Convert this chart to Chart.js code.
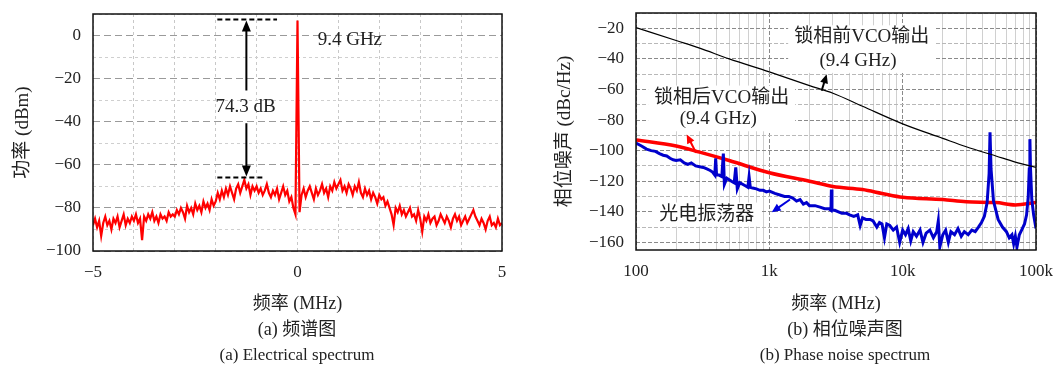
<!DOCTYPE html>
<html>
<head>
<meta charset="utf-8">
<script src="https://cdn.jsdelivr.net/npm/chart.js@4.4.0/dist/chart.umd.min.js"></script>
<style>
  body { margin: 0; background: #fff; width: 1055px; height: 367px; position: relative; overflow: hidden;
         font-family: 'Liberation Serif', 'Noto Sans CJK SC', serif; color: #222; }
  canvas { position: absolute; top: 0; }
  #chartSpec { left: 0; }
  #chartNoise { left: 530px; }
  .cap { position: absolute; width: 400px; text-align: center; white-space: nowrap; }
</style>
</head>
<body>
<canvas id="chartSpec" width="525" height="320"></canvas>
<canvas id="chartNoise" width="525" height="320"></canvas>
<div class="cap" style="left:97px;top:314px;font-size:18px">(a) 频谱图</div>
<div class="cap" style="left:97px;top:345px;font-size:17px">(a) Electrical spectrum</div>
<div class="cap" style="left:645px;top:314px;font-size:18px">(b) 相位噪声图</div>
<div class="cap" style="left:645px;top:345px;font-size:17px">(b) Phase noise spectrum</div>
<script>
// spectrum (a): power in dBm, sampled every 0.05 MHz from -5 to 5
const specStart = -5
const specStep = 0.05
const specP = [
  -88,-85,-89,-86,-93,-87,-84,-88,-86,-90,-85,-87,-84,-89,-86,-83,-88,-85,-87,-84,
  -86,-83,-87,-85,-95,-84,-86,-83,-85,-82,-86,-84,-87,-83,-85,-84,-86,-82,-84,-83,
  -84,-81,-83,-80,-82,-85,-79,-82,-80,-83,-78,-81,-79,-82,-77,-80,-78,-81,-76,-79,
  -77,-73,-76,-72,-75,-71,-74,-70,-73,-76,-71,-69,-73,-70,-67,-71,-69,-74,-70,-72,
  -70,-73,-71,-74,-72,-69,-73,-75,-72,-74,-71,-76,-73,-70,-74,-72,-77,-75,-80,-83,
  7,
  -82,-74,-71,-75,-72,-70,-73,-76,-71,-74,-72,-69,-73,-71,-75,-70,-72,-68,-71,-69,
  -67,-72,-70,-73,-69,-71,-74,-70,-72,-68,-73,-75,-71,-74,-72,-76,-73,-75,-78,-74,
  -76,-75,-79,-77,-80,-83,-88,-80,-82,-79,-83,-81,-84,-82,-80,-84,-83,-86,-81,-85,
  -91,-84,-86,-83,-87,-85,-84,-88,-86,-83,-85,-87,-84,-86,-89,-85,-83,-86,-84,-88,
  -86,-84,-87,-85,-83,-81,-84,-86,-88,-85,-87,-90,-86,-84,-88,-87,-89,-85,-88,-87
]

// phase noise (b): offset frequency (Hz) and dBc/Hz
const vcoFreeF = [100, 200, 300, 500, 1000, 2000, 3000, 5000, 10000, 20000, 30000, 50000, 70000, 100000]
const vcoFreeP = [-19.5, -28, -33, -40, -48.5, -57.5, -62.5, -71, -82.5, -92, -97.5, -103.5, -107.5, -111]

const vcoLockF = [100, 200, 300, 500, 1000, 2000, 3000, 5000, 7000, 10000, 20000, 30000, 50000, 70000, 100000]
const vcoLockP = [-93, -97, -101, -106.5, -114.5, -120, -123.5, -125.5, -128, -130.5, -132, -133.5, -134, -135.5, -134]

const oeoF = [
  100,110,120,130,140,150,160,170,180,190,200,215,230,245,260,280,300,320,340,360,375,390,396,402,420,440,452,460,480,500,
  520,545,560,575,600,630,660,690,705,720,750,800,850,900,950,1000,1100,1200,1300,1400,1500,1600,1700,1800,1900,2000,2200,2400,2600,2800,
  2900,2920,2950,3100,3300,3500,3800,4000,4300,4600,4800,5000,5300,5700,6000,6400,6700,7000,7300,7600,8000,8500,9000,9500,10000,10500,11000,11500,12000,12700,
  13500,14200,15000,16000,17000,18000,18500,19000,20000,21000,22000,23000,24500,26000,27500,29000,31000,33000,35000,37000,39000,41000,43000,44500,45200,46000,48000,52000,56000,60000,
  63000,66000,68000,70000,72000,75000,78000,82000,85000,87500,89000,90000,91000,93000,96000,100000
]
const oeoP = [
  -95,-97,-99,-100,-100.5,-102,-103,-103.5,-105,-106,-106.5,-106,-108,-109,-108,-110,-110.5,-111,-112,-113,-114,-116,-105,-116,-116,-117,-102,-122,-118,-119,
  -120,-121,-111,-125,-121,-122,-123,-124,-117,-124,-124.5,-125,-126,-126,-127,-126.5,-128,-129,-130,-130,-131,-133,-132,-135,-134,-136,-136,-137,-138,-138,
  -139,-125.5,-139,-139,-140,-141,-141,-142,-143,-142,-149,-144,-145,-145,-146,-150,-147,-148,-157,-148,-149,-152,-150,-160,-152,-155,-151,-159,-153,-156,
  -152,-160,-154,-152,-157,-153,-146,-163,-155,-152,-160,-153,-155,-151,-156,-153,-155,-152,-153,-150,-147,-143,-134,-115,-88,-112,-133,-145,-150,-153,
  -157,-155,-161,-156,-163,-155,-152,-148,-142,-130,-112,-92.5,-112,-132,-142,-151
]

// annotation anchors in data units
const specNotes = {
  arrowX: -1.25, topLevel: 7.4, floorLevel: -65.9,
  topLine: [-1.96, -0.5], floorLine: [-1.96, -0.84],
  upTail: -25.5, downTail: -40.7,
  gap: [-1.27, -33.3, '74.3 dB'], carrier: [1.28, -2.3, '9.4 GHz']
}
const noiseNotes = {
  free: { lines: [[4930, -25.9, '锁相前VCO输出'], [4620, -41.3, '(9.4 GHz)']], arrow: [2470, -60.9, 2690, -50], color: '#000' },
  lock: { lines: [[439, -65.3, '锁相后VCO输出'], [414, -79.5, '(9.4 GHz)']], arrow: [282, -101.4, 240, -89.4], color: '#f00' },
  oeo: { lines: [[339, -141.8, '光电振荡器']], arrow: [1429, -132, 1042, -140.3], color: '#0000dd' }
}

const FONT = "'Liberation Serif', 'Noto Sans CJK SC', serif"
const minus = v => String(v).replace('-', '\u2212')

function arrow(ctx, x1, y1, x2, y2, color, lw, hl, hw) {
  const a = Math.atan2(y2 - y1, x2 - x1)
  const c = Math.cos(a), s = Math.sin(a)
  ctx.save()
  ctx.strokeStyle = color
  ctx.fillStyle = color
  ctx.lineWidth = lw
  ctx.setLineDash([])
  ctx.beginPath()
  ctx.moveTo(x1, y1)
  ctx.lineTo(x2 - c * hl * 0.8, y2 - s * hl * 0.8)
  ctx.stroke()
  ctx.beginPath()
  ctx.moveTo(x2, y2)
  ctx.lineTo(x2 - hl * c + hw / 2 * s, y2 - hl * s - hw / 2 * c)
  ctx.lineTo(x2 - hl * c - hw / 2 * s, y2 - hl * s + hw / 2 * c)
  ctx.closePath()
  ctx.fill()
  ctx.restore()
}

const frame = {
  id: 'frame',
  afterDatasetsDraw(chart) {
    const { ctx, chartArea: a } = chart
    ctx.save()
    ctx.strokeStyle = '#111'
    ctx.lineWidth = 1.5
    ctx.strokeRect(a.left, a.top, a.right - a.left, a.bottom - a.top)
    ctx.restore()
  }
}

const specMarks = {
  id: 'specMarks',
  afterDraw(chart) {
    const { ctx } = chart
    const x = chart.scales.x, y = chart.scales.y
    const n = specNotes
    ctx.save()
    ctx.strokeStyle = '#000'
    ctx.lineWidth = 2
    ctx.setLineDash([5, 3])
    ctx.beginPath()
    ctx.moveTo(x.getPixelForValue(n.topLine[0]), y.getPixelForValue(n.topLevel))
    ctx.lineTo(x.getPixelForValue(n.topLine[1]), y.getPixelForValue(n.topLevel))
    ctx.moveTo(x.getPixelForValue(n.floorLine[0]), y.getPixelForValue(n.floorLevel))
    ctx.lineTo(x.getPixelForValue(n.floorLine[1]), y.getPixelForValue(n.floorLevel))
    ctx.stroke()
    ctx.restore()
    const ax = x.getPixelForValue(n.arrowX)
    arrow(ctx, ax, y.getPixelForValue(n.upTail), ax, y.getPixelForValue(n.topLevel) + 1, '#000', 2, 11, 9)
    arrow(ctx, ax, y.getPixelForValue(n.downTail), ax, y.getPixelForValue(n.floorLevel) - 1, '#000', 2, 11, 9)
    ctx.save()
    ctx.fillStyle = '#222'
    ctx.font = '19px ' + FONT
    ctx.textAlign = 'center'
    ctx.textBaseline = 'middle'
    for (const t of [n.gap, n.carrier]) {
      ctx.fillText(t[2], x.getPixelForValue(t[0]), y.getPixelForValue(t[1]))
    }
    ctx.restore()
  }
}

const noiseMarks = {
  id: 'noiseMarks',
  afterDatasetsDraw(chart) {
    const { ctx } = chart
    const x = chart.scales.x, y = chart.scales.y
    ctx.save()
    ctx.font = '19px ' + FONT
    ctx.textAlign = 'center'
    ctx.textBaseline = 'middle'
    for (const key of ['free', 'lock', 'oeo']) {
      const note = noiseNotes[key]
      // white box behind the label block
      let l = Infinity, r = -Infinity, t = Infinity, b = -Infinity
      for (const ln of note.lines) {
        const px = x.getPixelForValue(ln[0]), py = y.getPixelForValue(ln[1])
        const w = ctx.measureText(ln[2]).width
        l = Math.min(l, px - w / 2 - 6); r = Math.max(r, px + w / 2 + 6)
        t = Math.min(t, py - 12); b = Math.max(b, py + 12)
      }
      ctx.fillStyle = '#fff'
      ctx.fillRect(l, t, r - l, b - t)
      ctx.fillStyle = '#222'
      for (const ln of note.lines) {
        ctx.fillText(ln[2], x.getPixelForValue(ln[0]), y.getPixelForValue(ln[1]))
      }
      const ar = note.arrow
      arrow(ctx, x.getPixelForValue(ar[0]), y.getPixelForValue(ar[1]),
        x.getPixelForValue(ar[2]), y.getPixelForValue(ar[3]), note.color, 2, 9, 8)
    }
    ctx.restore()
  }
}

// drop the label overhang so the layout padding alone places the plot box
function fixY(width) {
  return s => { s.width = width; s.paddingTop = 0; s.paddingBottom = 0 }
}
function fixX(height) {
  return s => { s.height = height; s.paddingLeft = 0; s.paddingRight = 0 }
}

Chart.defaults.font.family = FONT
Chart.defaults.color = '#222'
Chart.defaults.animation = false

// chart (a)
const specData = specP.map((p, i) => ({ x: specStart + i * specStep, y: p }))
new Chart(document.getElementById('chartSpec'), {
  type: 'line',
  data: {
    datasets: [{
      data: specData,
      borderColor: '#ff0000',
      borderWidth: 2.2,
      pointRadius: 0,
      tension: 0
    }]
  },
  options: {
    responsive: false,
    layout: { padding: { top: 14, right: 23, left: 0, bottom: 0 } },
    plugins: { legend: { display: false }, tooltip: { enabled: false } },
    scales: {
      x: {
        type: 'linear', min: -5, max: 5,
        afterBuildTicks: s => { s.ticks = [-5,-4,-3,-2,-1,0,1,2,3,4,5].map(v => ({ value: v })) },
        afterFit: fixX(69),
        ticks: { font: { size: 17 }, padding: 11, maxRotation: 0, autoSkip: false,
          callback: v => (v === -5 || v === 0 || v === 5) ? minus(v) : '' },
        grid: { color: '#c8c8c8', lineWidth: 1, drawTicks: false },
        border: { display: false, dash: [3, 3] },
        title: { display: true, text: '频率 (MHz)', font: { size: 18 }, padding: { top: 4, bottom: 5 } }
      },
      y: {
        min: -100, max: 10,
        afterBuildTicks: s => { s.ticks = [-100,-90,-80,-70,-60,-50,-40,-30,-20,-10,0,10].map(v => ({ value: v })) },
        afterFit: fixY(93),
        ticks: { font: { size: 17 }, padding: 12, autoSkip: false,
          callback: v => (v % 20 === 0 && v <= 0) ? minus(v) : '' },
        grid: { drawTicks: false, lineWidth: 1,
          color: c => c.tick && c.tick.value % 20 === 0 ? '#9a9a9a' : '#cfcfcf' },
        border: { display: false, dash: c => c.tick && c.tick.value % 20 === 0 ? [7, 4] : [3, 3] },
        title: { display: true, text: '功率 (dBm)', font: { size: 19 }, padding: { top: 12, bottom: 4 } }
      }
    }
  },
  plugins: [frame, specMarks]
})

// chart (b)
const decadeTicks = []
for (const d of [100, 1000, 10000]) for (let k = 1; k <= 9; k++) decadeTicks.push(k * d)
decadeTicks.push(100000)
const decadeLabel = { 100: '100', 1000: '1k', 10000: '10k', 100000: '100k' }
const pts = (f, p) => f.map((v, i) => ({ x: v, y: p[i] }))

new Chart(document.getElementById('chartNoise'), {
  type: 'line',
  data: {
    datasets: [
      { data: pts(vcoFreeF, vcoFreeP), borderColor: '#000', borderWidth: 1.2, pointRadius: 0, tension: 0.3, cubicInterpolationMode: 'monotone' },
      { data: pts(oeoF, oeoP), borderColor: '#0000cc', borderWidth: 3, pointRadius: 0, tension: 0 },
      { data: pts(vcoLockF, vcoLockP), borderColor: '#ff0000', borderWidth: 3.5, pointRadius: 0, tension: 0.3, cubicInterpolationMode: 'monotone' }
    ]
  },
  options: {
    responsive: false,
    layout: { padding: { top: 13, right: 19, left: 0, bottom: 0 } },
    plugins: { legend: { display: false }, tooltip: { enabled: false } },
    scales: {
      x: {
        type: 'logarithmic', min: 100, max: 100000,
        afterBuildTicks: s => { s.ticks = decadeTicks.map(v => ({ value: v })) },
        afterFit: fixX(70),
        ticks: { font: { size: 17 }, padding: 11, maxRotation: 0, autoSkip: false,
          callback: v => decadeLabel[v] || '' },
        grid: { drawTicks: false, lineWidth: 1,
          color: c => c.tick && decadeLabel[c.tick.value] ? '#8a8a8a' : '#d0d0d0' },
        border: { display: false, dash: c => c.tick && decadeLabel[c.tick.value] ? [4, 2] : [] },
        title: { display: true, text: '频率 (MHz)', font: { size: 18 }, padding: { top: 4, bottom: 5 } }
      },
      y: {
        min: -165, max: -10,
        afterBuildTicks: s => { s.ticks = [-160,-150,-140,-130,-120,-110,-100,-90,-80,-70,-60,-50,-40,-30,-20,-10].map(v => ({ value: v })) },
        afterFit: fixY(106),
        ticks: { font: { size: 17 }, padding: 12, autoSkip: false,
          callback: v => (v % 20 === 0) ? minus(v) : '' },
        grid: { drawTicks: false, lineWidth: 1,
          color: c => c.tick && c.tick.value % 20 === 0 ? '#8a8a8a' : '#b8b8b8' },
        border: { display: false, dash: [4, 2] },
        title: { display: true, text: '相位噪声 (dBc/Hz)', font: { size: 19 }, padding: { top: 24, bottom: 4 } }
      }
    }
  },
  plugins: [frame, noiseMarks]
})
</script>
</body>
</html>
